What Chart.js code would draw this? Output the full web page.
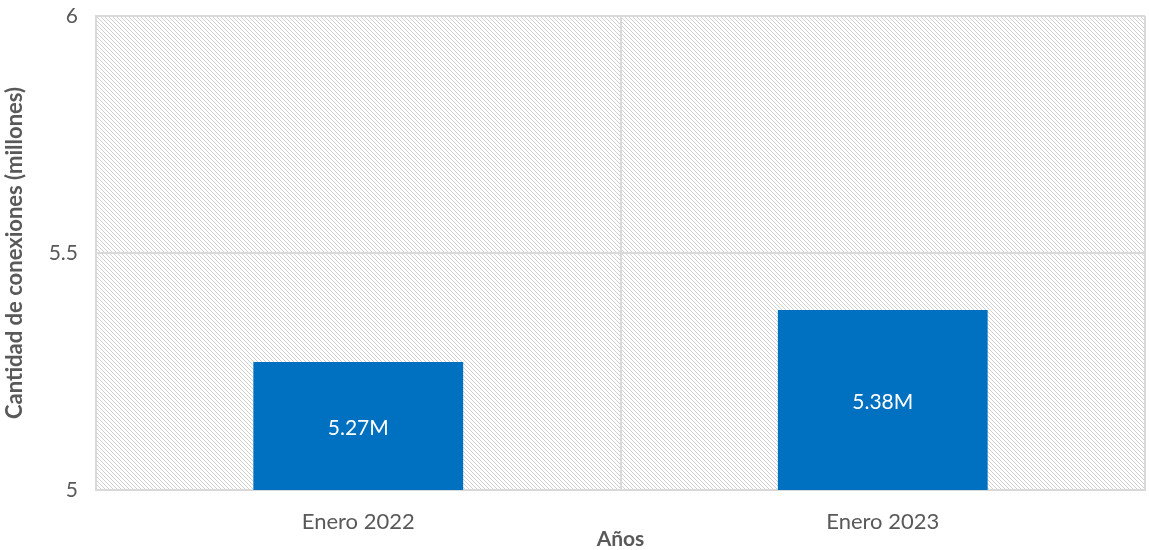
<!DOCTYPE html>
<html>
<head>
<meta charset="utf-8">
<script src="https://cdn.jsdelivr.net/npm/chart.js@4/dist/chart.umd.min.js"></script>
<style>
  html, body { margin: 0; padding: 0; background: #fff; }
  #wrap { width: 1149px; height: 550px; }
</style>
</head>
<body>
<div id="wrap"><canvas id="conexionesChart"></canvas></div>
<script>
var categories = ['Enero 2022', 'Enero 2023'];
var conexiones = [5.27, 5.38];
var barLabels = ['5.27M', '5.38M'];
var yTicks = [5, 5.5, 6];

var FONT = 'Lato';

function makeHatch() {
    var c = document.createElement('canvas');
    c.width = 4;
    c.height = 4;
    var g = c.getContext('2d');
    g.fillStyle = '#ffffff';
    g.fillRect(0, 0, 4, 4);
    g.fillStyle = '#d0d0d0';
    // diagonal "\" pixels
    for (var i = 0; i < 4; i++) {
        g.fillRect(i, i, 1, 1);
    }
    return c;
}

var hatchPlugin = {
    id: 'hatchBg',
    beforeDraw: function (chart) {
        var c = chart.ctx;
        var a = chart.chartArea;
        c.save();
        c.fillStyle = c.createPattern(makeHatch(), 'repeat');
        c.fillRect(a.left, a.top, a.right - a.left, a.bottom - a.top);
        c.restore();
    }
};

var labelPlugin = {
    id: 'valueText',
    afterDraw: function (chart) {
        var c = chart.ctx;
        var meta = chart.getDatasetMeta(0);
        var yScale = chart.scales.y;
        c.save();
        c.fillStyle = '#ffffff';
        c.font = '21px ' + FONT + ', sans-serif';
        c.textAlign = 'center';
        c.textBaseline = 'middle';
        for (var i = 0; i < meta.data.length; i++) {
            var bar = meta.data[i];
            var top = yScale.getPixelForValue(conexiones[i]);
            var bottom = yScale.bottom;
            c.fillText(barLabels[i], bar.x, (top + bottom) / 2 + 2);
        }
        c.restore();
    }
};

var ctx = document.getElementById('conexionesChart').getContext('2d');

var chart = new Chart(ctx, {
    type: 'bar',
    data: {
        labels: categories,
        datasets: [{
            data: conexiones,
            backgroundColor: '#0070c0',
            categoryPercentage: 1,
            barPercentage: 0.4
        }]
    },
    options: {
        responsive: true,
        maintainAspectRatio: false,
        animation: false,
        layout: { autoPadding: false, padding: { top: 16, right: 4, left: 0, bottom: 0 } },
        plugins: {
            legend: { display: false },
            tooltip: { enabled: false }
        },
        scales: {
            x: {
                grid: { color: '#d9d9d9', lineWidth: 2, offset: true, drawTicks: false },
                border: { color: '#d9d9d9', width: 2 },
                ticks: { color: '#595959', font: { family: FONT, size: 22, lineHeight: 1 }, padding: 21 },
                title: { display: true, text: 'Años', color: '#595959', font: { family: FONT, size: 21, weight: 'bold', lineHeight: 1 }, padding: { top: 0, bottom: 0 } },
                afterFit: function (s) {
                    s.height = 60;
                    s.paddingLeft = 0;
                    s.paddingRight = 0;
                }
            },
            y: {
                min: 5,
                max: 6,
                afterBuildTicks: function (axis) {
                    axis.ticks = yTicks.map(function (v) { return { value: v }; });
                },
                grid: { color: '#d9d9d9', lineWidth: 2, drawTicks: false },
                border: { color: '#d9d9d9', width: 2 },
                ticks: {
                    color: '#595959',
                    font: { family: FONT, size: 21 },
                    padding: 18,
                    callback: function (v) { return String(v); }
                },
                title: { display: true, text: 'Cantidad de conexiones (millones)', color: '#595959', font: { family: FONT, size: 22, weight: 'bold', lineHeight: 1 }, padding: { top: 4, bottom: 20 } },
                afterFit: function (s) {
                    s.width = 96;
                    s.paddingTop = 0;
                    s.paddingBottom = 0;
                }
            }
        }
    },
    plugins: [hatchPlugin, labelPlugin]
});
</script>
</body>
</html>
